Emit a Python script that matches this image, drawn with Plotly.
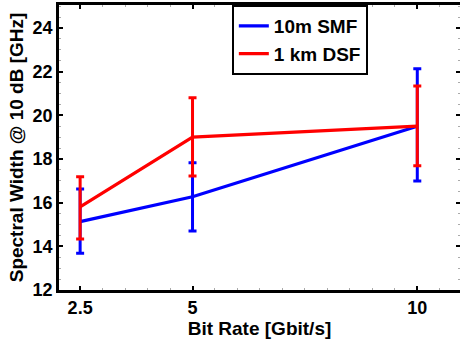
import plotly.graph_objects as go

bit_rate = [2.5, 5, 10]
smf_mean = [15.13, 16.27, 19.5]
smf_upper = [16.62, 17.83, 22.13]
smf_lower = [13.68, 14.70, 16.99]
dsf_mean = [15.81, 19.0, 19.5]
dsf_upper = [17.19, 20.80, 21.34]
dsf_lower = [14.33, 17.22, 17.69]
x_ticks = [2.5, 5, 10]
x_tick_labels = ["2.5", "5", "10"]
y_ticks = [12, 14, 16, 18, 20, 22, 24]
y_range = [12, 25.05]

def trace(name, mean, upper, lower, color):
    return go.Scatter(
        x=bit_rate, y=mean, name=name, mode="lines",
        line=dict(color=color, width=3.2),
        error_y=dict(
            type="data", symmetric=False,
            array=[u - m for u, m in zip(upper, mean)],
            arrayminus=[m - l for m, l in zip(mean, lower)],
            color=color, thickness=3, width=4,
        ),
    )

fig = go.Figure()
fig.add_trace(trace("10m SMF", smf_mean, smf_upper, smf_lower, "#0000ff"))
fig.add_trace(trace("1 km DSF", dsf_mean, dsf_upper, dsf_lower, "#ff0000"))
# invisible trace to activate the right-hand tick axis
fig.add_trace(go.Scatter(x=[bit_rate[0]], y=[y_range[0]], yaxis="y2", mode="markers",
                         marker=dict(opacity=0), showlegend=False, hoverinfo="skip"))

font = dict(family="Liberation Sans, Arial, sans-serif", color="black", weight="bold")

fig.update_layout(
    width=460, height=341,
    margin=dict(l=59, r=0, t=5, b=51),
    paper_bgcolor="white", plot_bgcolor="white",
    font=dict(**font, size=18),
    showlegend=True,
    legend=dict(
        x=0.431, y=1.0, xanchor="left", yanchor="top",
        bgcolor="white", bordercolor="black", borderwidth=2,
        font=dict(**font, size=19),
        itemwidth=30, tracegroupgap=0,
    ),
    xaxis=dict(
        range=[2.03, 10.95], tickvals=x_ticks, ticktext=x_tick_labels,
        showgrid=False, zeroline=False,
        showline=True, linecolor="black", linewidth=2.5, mirror="ticks",
        ticks="inside", ticklen=4, tickwidth=2, tickcolor="black",
        tickfont=dict(**font, size=18),
        title=dict(text="Bit Rate [Gbit/s]", font=dict(**font, size=19), standoff=2),
        minor=dict(dtick=0.5, tick0=0, ticks="inside", ticklen=2, tickcolor="#aaaaaa", tickwidth=1),
    ),
    yaxis=dict(
        range=y_range, tickvals=y_ticks,
        showgrid=False, zeroline=False,
        showline=True, linecolor="black", linewidth=2.5, mirror=False,
        ticks="inside", ticklen=4, tickwidth=2, tickcolor="black",
        tickfont=dict(**font, size=18),
        title=dict(text="Spectral Width @ 10 dB [GHz]", font=dict(**font, size=19), standoff=4),
        minor=dict(dtick=0.5, ticks="inside", ticklen=2, tickcolor="#aaaaaa", tickwidth=1),
    ),
    yaxis2=dict(
        range=y_range, tickvals=y_ticks, overlaying="y", side="right",
        showgrid=False, zeroline=False, showline=False, showticklabels=False,
        ticks="inside", ticklen=4, tickwidth=2, tickcolor="black",
        minor=dict(dtick=0.5, ticks="inside", ticklen=2, tickcolor="#aaaaaa", tickwidth=1),
    ),
)

fig.write_html("out.html")
